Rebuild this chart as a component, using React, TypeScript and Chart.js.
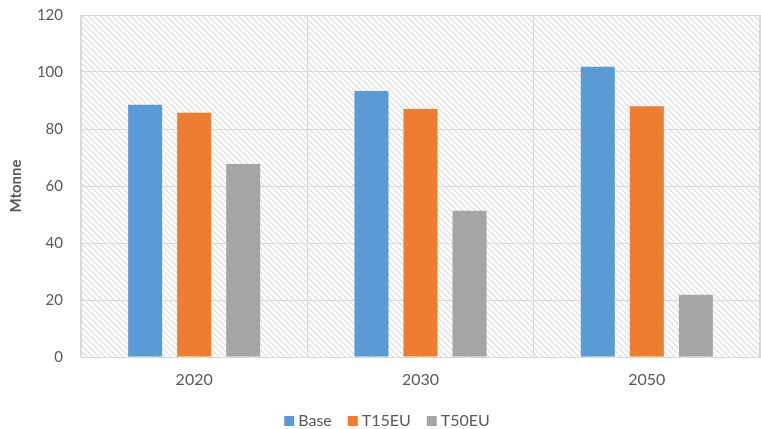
import React, { useEffect, useRef } from "react";
import { Chart, registerables } from "chart.js";

Chart.register(...registerables);

const categories = ["2020", "2030", "2050"];
const baseValues = [88.5, 93.3, 101.8];
const t15Values = [85.7, 87.0, 88.0];
const t50Values = [67.7, 51.3, 21.8];
const seriesNames = ["Base", "T15EU", "T50EU"];
const seriesColors = ["#5B9BD5", "#ED7D31", "#A5A5A5"];
const yTicks = [0, 20, 40, 60, 80, 100, 120];

const FONT = "Lato, 'Open Sans', sans-serif";

function makePattern(): CanvasPattern | string {
  const c = document.createElement("canvas");
  c.width = 6;
  c.height = 6;
  const ctx = c.getContext("2d");
  if (!ctx) return "#fff";
  ctx.fillStyle = "#ffffff";
  ctx.fillRect(0, 0, 6, 6);
  for (let y = 0; y < 6; y++) {
    for (let x = 0; x < 6; x++) {
      const d = (((x - y) % 6) + 6) % 6;
      if (d === 0) {
        ctx.fillStyle = "#d9d9d9";
        ctx.fillRect(x, y, 1, 1);
      } else if (d === 1) {
        ctx.fillStyle = "#eeeeee";
        ctx.fillRect(x, y, 1, 1);
      }
    }
  }
  const p = ctx.createPattern(c, "repeat");
  return p || "#fff";
}

const bgPlugin = {
  id: "plotBg",
  beforeDraw(chart: any) {
    const { ctx, chartArea } = chart;
    const pat = makePattern();
    ctx.save();
    ctx.fillStyle = pat as any;
    ctx.fillRect(chartArea.left, chartArea.top, chartArea.right - chartArea.left, chartArea.bottom - chartArea.top);
    ctx.restore();
  },
  afterDatasetsDraw(chart: any) {
    const { ctx, chartArea } = chart;
    ctx.save();
    ctx.strokeStyle = "#d9d9d9";
    ctx.lineWidth = 1;
    ctx.strokeRect(chartArea.left + 0.5, chartArea.top + 0.5, chartArea.right - chartArea.left - 1, chartArea.bottom - chartArea.top);
    ctx.restore();
  },
};

const legendPlugin = {
  id: "customLegend",
  afterDraw(chart: any) {
    const { ctx } = chart;
    const ds = chart.data.datasets;
    ctx.save();
    ctx.font = `16px ${FONT}`;
    ctx.textBaseline = "middle";
    const box = 10;
    const gap = 4;
    const spacing = 16;
    const widths = ds.map((d: any) => box + gap + ctx.measureText(d.label).width);
    const total = widths.reduce((a: number, b: number) => a + b, 0) + spacing * (ds.length - 1);
    let x = 387 - total / 2;
    const cy = 421;
    ds.forEach((d: any, i: number) => {
      ctx.fillStyle = d.backgroundColor;
      ctx.fillRect(x, cy - 5, box, box);
      ctx.fillStyle = "#595959";
      ctx.textAlign = "left";
      ctx.fillText(d.label, x + box + gap, cy);
      x += widths[i] + spacing;
    });
    ctx.restore();
  },
};

export default function App() {
  const ref = useRef<HTMLCanvasElement | null>(null);
  useEffect(() => {
    if (!ref.current) return;
    const data = [baseValues, t15Values, t50Values];
    const chart = new Chart(ref.current, {
      type: "bar",
      data: {
        labels: categories,
        datasets: seriesNames.map((n, i) => ({
          label: n,
          data: data[i],
          backgroundColor: seriesColors[i],
          borderWidth: 0,
          categoryPercentage: 0.65,
          barPercentage: 0.694,
        })),
      },
      options: {
        animation: false,
        responsive: false,
        maintainAspectRatio: false,
        layout: { padding: { left: 0, right: 1, top: 15, bottom: 0 } },
        plugins: {
          legend: { display: false },
          tooltip: { enabled: false },
        },
        scales: {
          x: {
            afterFit(axis: any) {
              axis.height = 72;
              axis.paddingLeft = 0;
              axis.paddingRight = 0;
            },
            grid: { color: "#d9d9d9", offset: true, drawTicks: false },
            border: { color: "#d9d9d9" },
            ticks: { color: "#595959", font: { family: FONT, size: 16 }, padding: 13 },
          },
          y: {
            min: 0,
            max: 120,
            afterBuildTicks(axis: any) {
              axis.ticks = yTicks.map((v) => ({ value: v }));
            },
            afterFit(axis: any) {
              axis.width = 81;
              axis.paddingTop = 0;
              axis.paddingBottom = 0;
            },
            grid: { color: "#d9d9d9", drawTicks: false },
            border: { display: false },
            ticks: { color: "#595959", font: { family: FONT, size: 15 }, padding: 18 },
            title: {
              display: true,
              text: "Mtonne",
              color: "#595959",
              font: { family: FONT, size: 15, weight: "bold" },
              padding: { top: 7, bottom: 0 },
            },
          },
        },
      },
      plugins: [bgPlugin, legendPlugin],
    });
    return () => chart.destroy();
  }, []);
  return (
    <div style={{ position: "fixed", left: 0, top: 0, width: 761, height: 429, background: "#fff" }}>
      <canvas ref={ref} width={761} height={429} style={{ width: 761, height: 429 }} />
    </div>
  );
}
